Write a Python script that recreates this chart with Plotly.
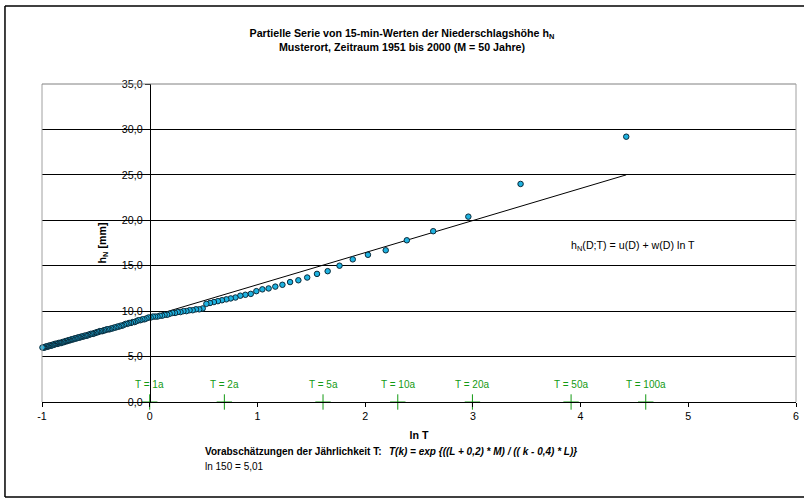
import plotly.graph_objects as go

# ---- data ----
ln_T = [4.424, 3.443, 2.958, 2.632, 2.387, 2.191, 2.026, 1.885, 1.762, 1.652,
        1.553, 1.462, 1.380, 1.303, 1.232, 1.166, 1.104, 1.046, 0.990, 0.938,
        0.888, 0.841, 0.796, 0.752, 0.711, 0.671, 0.633, 0.596, 0.560, 0.526,
        0.492, 0.460, 0.429, 0.399, 0.370, 0.341, 0.313, 0.286, 0.260, 0.235,
        0.210, 0.185, 0.162, 0.138, 0.116, 0.094, 0.072, 0.051, 0.030, 0.009,
        -0.011, -0.030, -0.049, -0.068, -0.087, -0.105, -0.123, -0.140, -0.157, -0.174,
        -0.191, -0.207, -0.223, -0.239, -0.255, -0.270, -0.285, -0.300, -0.315, -0.329,
        -0.344, -0.358, -0.372, -0.385, -0.399, -0.412, -0.425, -0.438, -0.451, -0.464,
        -0.476, -0.488, -0.501, -0.513, -0.524, -0.536, -0.548, -0.559, -0.571, -0.582,
        -0.593, -0.604, -0.615, -0.626, -0.636, -0.647, -0.657, -0.668, -0.678, -0.688,
        -0.698, -0.708, -0.717, -0.727, -0.737, -0.746, -0.756, -0.765, -0.774, -0.783,
        -0.793, -0.802, -0.810, -0.819, -0.828, -0.837, -0.845, -0.854, -0.862, -0.871,
        -0.879, -0.887, -0.896, -0.904, -0.912, -0.920, -0.928, -0.936, -0.943, -0.951,
        -0.959, -0.966, -0.974, -0.981, -0.989, -0.996]

h_N = [29.2, 24.0, 20.4, 18.8, 17.8, 16.7, 16.2, 15.7, 15.0, 14.4,
       14.1, 13.7, 13.4, 13.2, 12.9, 12.7, 12.5, 12.4, 12.2, 11.9,
       11.8, 11.7, 11.5, 11.4, 11.3, 11.2, 11.1, 11.0, 10.9, 10.8,
       10.3, 10.2, 10.2, 10.1, 10.1, 10.0, 10.0, 9.9, 9.9, 9.8,
       9.8, 9.7, 9.6, 9.6, 9.5, 9.5, 9.4, 9.4, 9.4, 9.3,
       9.3, 9.2, 9.1, 9.1, 9.0, 9.0, 8.9, 8.8, 8.8, 8.7,
       8.7, 8.6, 8.6, 8.5, 8.4, 8.4, 8.3, 8.3, 8.2, 8.2,
       8.1, 8.1, 8.0, 8.0, 8.0, 7.9, 7.9, 7.8, 7.8, 7.8,
       7.7, 7.7, 7.6, 7.6, 7.5, 7.5, 7.5, 7.4, 7.4, 7.3,
       7.3, 7.3, 7.2, 7.2, 7.2, 7.1, 7.1, 7.1, 7.0, 7.0,
       7.0, 6.9, 6.9, 6.9, 6.8, 6.8, 6.8, 6.7, 6.7, 6.7,
       6.6, 6.6, 6.6, 6.5, 6.5, 6.5, 6.5, 6.4, 6.4, 6.4,
       6.4, 6.3, 6.3, 6.3, 6.2, 6.2, 6.2, 6.2, 6.1, 6.1,
       6.1, 6.1, 6.0, 6.0, 6.0, 6.0]

trend_lnT = [-1.0, 4.424]
trend_h = [5.85, 25.0]

T_marks_lnT = [0.0, 0.693, 1.609, 2.303, 2.996, 3.912, 4.605]
T_marks_h = [0, 0, 0, 0, 0, 0, 0]
T_marks_labels = ["T = 1a", "T = 2a", "T = 5a", "T = 10a", "T = 20a", "T = 50a", "T = 100a"]

x_tickvals = [-1, 0, 1, 2, 3, 4, 5, 6]
x_ticktext = ["-1", "0", "1", "2", "3", "4", "5", "6"]
y_tickvals = [0, 5, 10, 15, 20, 25, 30, 35]

FONT = "Liberation Sans, Arial, sans-serif"
GREEN = "#139a13"

fig = go.Figure()

fig.add_trace(go.Scatter(
    x=trend_lnT, y=trend_h, mode="lines",
    line=dict(color="black", width=1), showlegend=False, hoverinfo="skip"))

fig.add_trace(go.Scatter(
    x=T_marks_lnT, y=T_marks_h, mode="markers",
    marker=dict(symbol="cross-thin", size=11, line=dict(color=GREEN, width=1)),
    showlegend=False, cliponaxis=False, hoverinfo="skip"))

fig.add_trace(go.Scatter(
    x=ln_T, y=h_N, mode="markers",
    marker=dict(symbol="circle", size=5.5, color="#1eb2e0",
                line=dict(color="#0a2a3a", width=1)),
    showlegend=False, cliponaxis=False))

# overlay axis for the inner half of the "cross" ticks on the y axis
fig.add_trace(go.Scatter(x=[None], y=[None], yaxis="y2", showlegend=False))

for xv, lab in zip(T_marks_lnT, T_marks_labels):
    fig.add_annotation(x=xv, y=0, xref="x", yref="y", text=lab, showarrow=False,
                       xanchor="center", yanchor="bottom", yshift=10,
                       font=dict(family=FONT, size=10, color=GREEN))

fig.add_annotation(xref="paper", yref="paper", x=0.699, y=0.49, xanchor="left",
                   yanchor="middle", showarrow=False,
                   text="h<sub>N</sub>(D;T) = u(D) + w(D) ln T",
                   font=dict(family=FONT, size=10.67, color="black"))

fig.add_annotation(xref="paper", yref="paper", x=0.2135, y=-0.157, xanchor="left",
                   yanchor="middle", showarrow=False,
                   text="<b>Vorabschätzungen der Jährlichkeit T:</b>",
                   font=dict(family=FONT, size=10, color="black"))
fig.add_annotation(xref="paper", yref="paper", x=0.4576, y=-0.157, xanchor="left",
                   yanchor="middle", showarrow=False,
                   text="<b><i>T(k) = exp {((L + 0,2) * M) / (( k - 0,4) * L)}</i></b>",
                   font=dict(family=FONT, size=10, color="black"))
fig.add_annotation(xref="paper", yref="paper", x=0.2135, y=-0.2013, xanchor="left",
                   yanchor="middle", showarrow=False,
                   text="ln 150 = 5,01",
                   font=dict(family=FONT, size=10, color="black"))

shapes = [
    # plot area border (grey) left, top, right
    dict(type="line", xref="paper", yref="paper", x0=0, x1=0, y0=0, y1=1,
         line=dict(color="#a0a0a0", width=1), layer="above"),
    dict(type="line", xref="paper", yref="paper", x0=0, x1=1, y0=1, y1=1,
         line=dict(color="#808080", width=1), layer="above"),
    dict(type="line", xref="paper", yref="paper", x0=1, x1=1, y0=0, y1=1,
         line=dict(color="#a0a0a0", width=1), layer="above"),
    # outer chart frame
    dict(type="line", xref="paper", yref="paper", x0=-0.0491, x1=-0.0491, y0=-0.2987, y1=1.2453,
         line=dict(color="black", width=1.5)),
    dict(type="line", xref="paper", yref="paper", x0=-0.0491, x1=1.02, y0=1.2453, y1=1.2453,
         line=dict(color="black", width=1.5)),
    dict(type="line", xref="paper", yref="paper", x0=-0.0491, x1=1.02, y0=-0.2987, y1=-0.2987,
         line=dict(color="black", width=1.5)),
]

fig.update_layout(
    width=804, height=501,
    margin=dict(l=42, r=8, t=84, b=99, autoexpand=False),
    paper_bgcolor="white", plot_bgcolor="white",
    separators=",.",
    font=dict(family=FONT, size=10.67, color="black"),
    title=dict(
        text="<b>Partielle Serie von 15-min-Werten der Niederschlagshöhe h<sub>N</sub></b><br>"
             "<b>Musterort, Zeitraum 1951 bis 2000 (M = 50 Jahre)</b>",
        x=0.5, xref="container", xanchor="center",
        y=1 - 37 / 501, yref="container", yanchor="top",
        font=dict(family=FONT, size=10.67, color="black")),
    xaxis=dict(
        range=[-1, 6], tickvals=x_tickvals, ticktext=x_ticktext,
        showgrid=False, zeroline=False, showline=True, linecolor="black", linewidth=1,
        ticks="outside", ticklen=4, tickcolor="black", automargin=False,
        title=dict(text="<b>ln T</b>", standoff=10, font=dict(family=FONT, size=10.67)),
        tickfont=dict(family=FONT, size=10.67)),
    yaxis=dict(
        range=[0, 35], tickvals=y_tickvals, tickformat=".1f",
        anchor="free", position=1 / 7, automargin=False,
        showgrid=True, gridcolor="black", gridwidth=1, zeroline=False,
        showline=True, linecolor="black", linewidth=1,
        ticks="outside", ticklen=5, tickcolor="black",
        title=dict(text="<b>h<sub>N</sub> [mm]</b>", standoff=12,
                   font=dict(family=FONT, size=10.67)),
        tickfont=dict(family=FONT, size=10.67)),
    yaxis2=dict(
        range=[0, 35], tickvals=y_tickvals, overlaying="y", anchor="free",
        position=1 / 7, showgrid=False, zeroline=False, showline=False, automargin=False,
        showticklabels=False, ticks="inside", ticklen=4, tickcolor="black"),
    shapes=shapes,
    hovermode=False,
)

fig.write_html("out.html",
               config={"displayModeBar": False, "staticPlot": True},
               post_script="document.body.style.margin='0';document.body.style.overflow='hidden';")
